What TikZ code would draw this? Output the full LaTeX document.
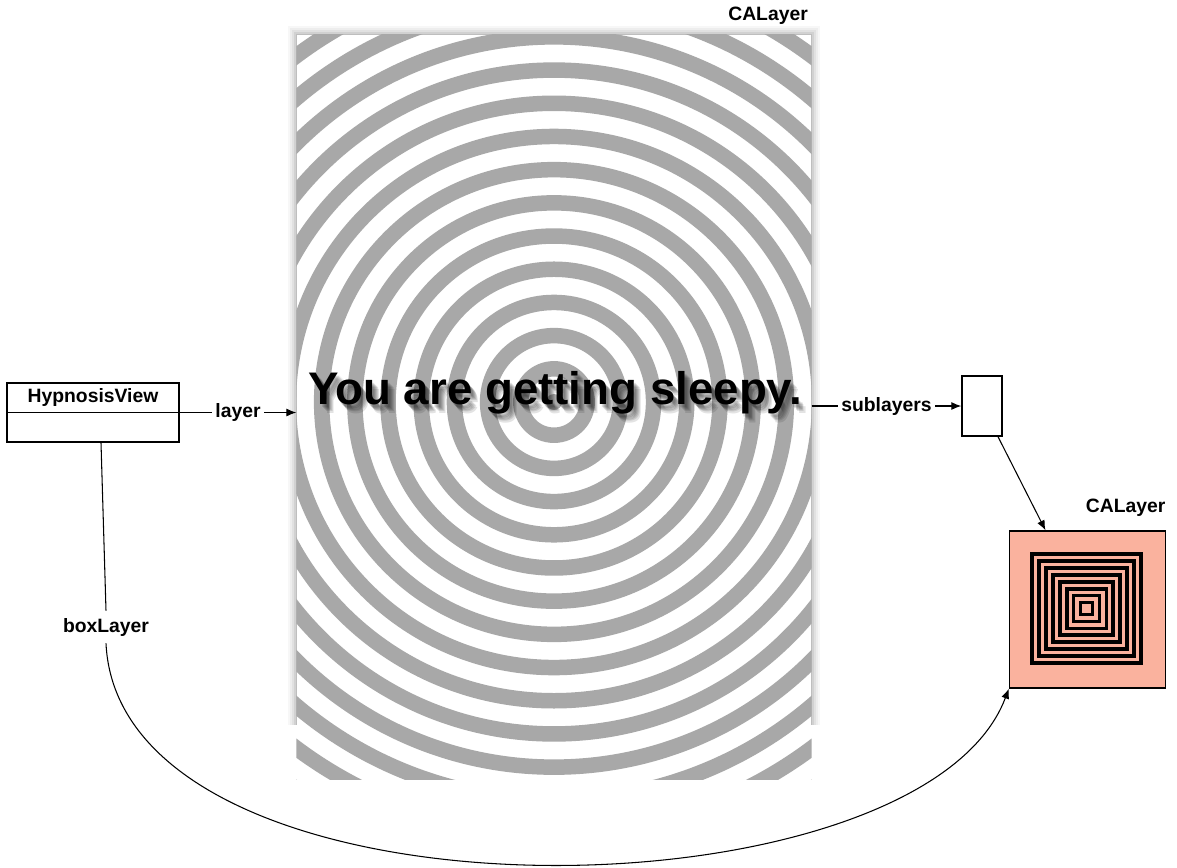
\documentclass[tikz,border=0pt]{standalone}
\usepackage{fontspec}
\setmainfont{Liberation Sans}
\usetikzlibrary{positioning, arrows.meta, calc}
\definecolor{ringgray}{RGB}{168, 168, 168}
\definecolor{layersalmon}{RGB}{250, 178, 158}
\tikzset{
  lbl/.style={font=\bfseries\fontsize{11}{13}\selectfont, inner sep=2pt},
  tag/.style={lbl, fill=white},
  obj/.style={rectangle, draw, line width=0.8pt, fill=white, inner sep=0pt},
  link/.style={-{Latex[length=2mm, width=1.6mm]}, line width=0.6pt},
  bigtext/.style={font=\bfseries\fontsize{26}{30}\selectfont, inner sep=0pt},
}
% blurred drop shadow under a line of text
\newcommand{\dropcopy}[3]{\rlap{\hspace*{#1}\raisebox{-#2}[0pt][0pt]{#3}}}
\newcommand{\sleepyshadow}[1]{%
  \pgfsetfillopacity{0.11}%
  \dropcopy{1.1pt}{1.7pt}{#1}\dropcopy{1.7pt}{2.3pt}{#1}\dropcopy{2.3pt}{2.8pt}{#1}%
  \dropcopy{2.8pt}{3.4pt}{#1}\dropcopy{3.4pt}{4pt}{#1}\dropcopy{4pt}{5.1pt}{#1}%
  \pgfsetfillopacity{1}#1}

\begin{document}
\begin{tikzpicture}[x=0.02cm, y=-0.02cm]
  \useasboundingbox (0,0) rectangle (1177,867);
  % soft shadow of the screen layer
  \foreach \s/\o in {9/0.03, 7/0.04, 5/0.05, 3/0.07, 1/0.09}
    \fill[black, opacity=\o] (297-\s,35-\s) rectangle (811+\s,725);
  \node[obj, draw=none, minimum width=10.28cm, minimum height=14.88cm] (screen) at (554,407) {};
  \begin{scope}
    \clip (screen.south west) rectangle (screen.north east);
    \fill[ringgray] (554,402) circle[radius=0.16cm];
    \foreach \k in {1,...,14}
      \draw[ringgray, line width=0.31cm] (554,402) circle[radius=\k*0.664cm];
  \end{scope}
  \node[bigtext] (sleepy) at (555,393) {\sleepyshadow{You are getting sleepy.}};
  \node[lbl, anchor=south east] (screentitle) at ($(screen.north east)+(0,-6)$) {CALayer};

  % view object
  \node[obj, minimum width=3.44cm, minimum height=1.18cm] (hv) at (93,412.5) {};
  \draw[line width=0.8pt] (hv.west) -- (hv.east);
  \node[lbl] (hvtitle) at ($(hv.north)!0.5!(hv.center)$) {HypnosisView};

  % sublayer array and box layer
  \node[obj, minimum width=0.8cm, minimum height=1.2cm] (sub) at (982,406) {};
  \node[obj, fill=layersalmon, minimum width=3.12cm, minimum height=3.14cm] (boxlayer) at (1087.5,609.5) {};
  \foreach \h in {6, 12.9, 19.8, 26.7, 33.6, 40.5, 47.4, 54.3}
    \draw[line width=0.072cm] ($(boxlayer.center)+(-\h-1,-\h-1)$) rectangle ($(boxlayer.center)+(\h-1,\h-1)$);
  \node[lbl, anchor=south east] (boxtitle) at ($(boxlayer.north east)+(3,-10)$) {CALayer};

  % connectors
  \draw[link] (hv.east) -- node[tag] {layer} (hv.east -| screen.west);
  \draw[link] (screen.east |- sub.west) -- node[tag] {sublayers} (sub.west);
  \draw[link] ($(sub.south)+(16,0)$) -- ($(boxlayer.north)+(-42,0)$);
  \node[tag, inner sep=4pt] (boxlbl) at (106,627) {boxLayer};
  \draw[link] ($(hv.south)+(8,0)$) -- (boxlbl.north)
    (boxlbl.south) .. controls (120,935) and (920,925) .. (boxlayer.south west);
\end{tikzpicture}
\end{document}
